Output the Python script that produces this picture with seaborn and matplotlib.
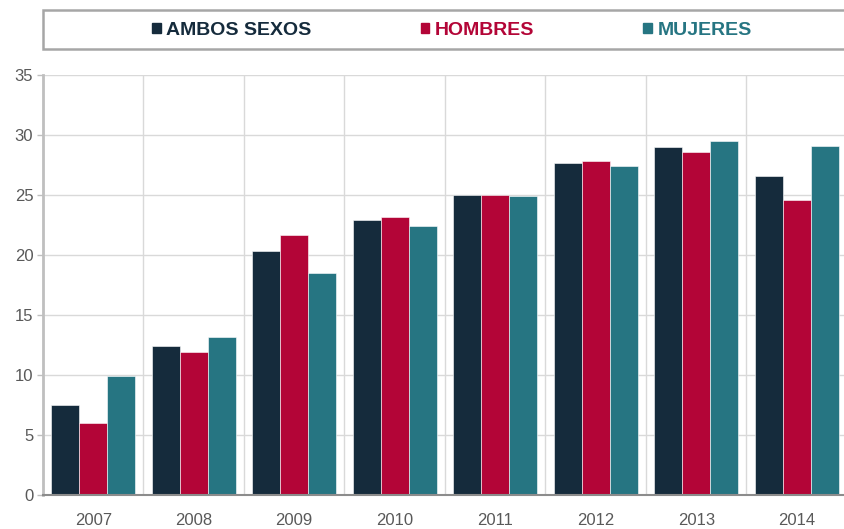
import pandas as pd
import seaborn as sns
import matplotlib.pyplot as plt
from matplotlib.patches import Patch, Rectangle

# Data
years = ["2007", "2008", "2009", "2010", "2011", "2012", "2013", "2014"]
ambos = [7.5, 12.4, 20.3, 22.9, 25.0, 27.7, 29.0, 26.6]
hombres = [6.0, 11.9, 21.7, 23.2, 25.0, 27.8, 28.6, 24.6]
mujeres = [9.9, 13.2, 18.5, 22.4, 24.9, 27.4, 29.5, 29.1]
series = ["AMBOS SEXOS", "HOMBRES", "MUJERES"]
colors = ["#152B3C", "#B30537", "#267582"]

# Long-form table for seaborn
df = pd.DataFrame({
    "year": years * 3,
    "value": ambos + hombres + mujeres,
    "serie": [s for s in series for _ in years],
})

sns.set_theme(style="white")
plt.rcParams["font.family"] = ["Liberation Sans", "DejaVu Sans"]

fig = plt.figure(figsize=(8.45, 5.29), dpi=100)
ax = fig.add_axes([43 / 845, 34 / 529, 804 / 845, 420 / 529])

sns.barplot(data=df, x="year", y="value", hue="serie", palette=colors,
            width=0.84, gap=0, saturation=1, legend=False, ax=ax,
            edgecolor="#ffffff", linewidth=0.4)

ax.set_xlim(-0.5, 7.5)
ax.set_ylim(0, 35)
ax.set_yticks(range(0, 36, 5))
ax.set_xlabel("")
ax.set_ylabel("")

# Grid: horizontal at ticks, vertical at category boundaries
ax.set_xticks([i + 0.5 for i in range(7)], minor=True)
ax.grid(axis="y", color="#D9D9D9", linewidth=1)
ax.grid(axis="x", which="minor", color="#D9D9D9", linewidth=1)
ax.set_axisbelow(True)

for s in ["top", "right"]:
    ax.spines[s].set_visible(False)
ax.spines["left"].set_color("#BFBFBF")
ax.spines["left"].set_linewidth(2)
ax.spines["bottom"].set_color("#8C8C8C")
ax.spines["bottom"].set_linewidth(1.5)

ax.tick_params(axis="y", length=4, width=1, color="#BFBFBF", pad=3,
               labelsize=12, labelcolor="#595959", left=True)
ax.tick_params(axis="x", which="both", length=0, pad=13,
               labelsize=12, labelcolor="#595959")

# Legend box across the top
fig.patches.append(Rectangle((43 / 845, 1 - 49 / 529), 820 / 845, 39 / 529,
                             transform=fig.transFigure, facecolor="white",
                             edgecolor="#A6A6A6", linewidth=1.8, zorder=0))
handles = [Patch(facecolor=c, edgecolor=c) for c in colors]
fig.legend(handles, series, loc="center", bbox_to_anchor=(452 / 845, 1 - 30.5 / 529),
           ncol=3, frameon=False, labelcolor=colors,
           prop={"weight": "bold", "size": 14},
           handlelength=0.45, handleheight=0.45, handletextpad=0.3,
           columnspacing=5.6, borderpad=0)

plt.savefig("out.png", dpi=100)
